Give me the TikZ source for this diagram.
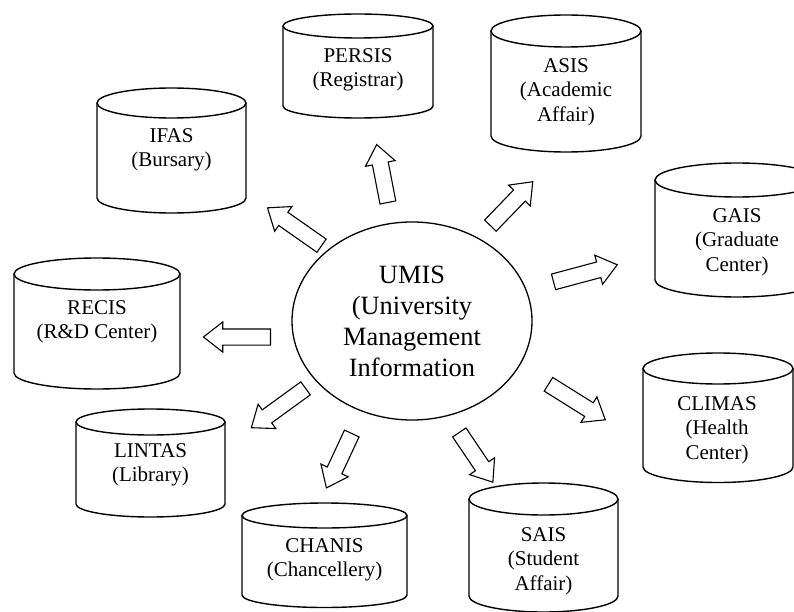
\documentclass[tikz,border=0pt]{standalone}
\usepackage{fontspec}
\setmainfont{Liberation Serif}
\usepackage{tikz}
\usetikzlibrary{shapes.geometric,shapes.arrows,positioning}
% cylinder: centre x, top y, half width, cap radius, end of sides
\newcommand{\dbcyl}[5]{%
  \draw[cyl] (#1,-#2-#4) ellipse [x radius=#3, y radius=#4];
  \draw[cyl] (#1-#3,-#2-#4) -- (#1-#3,-#5)
    arc[start angle=180, end angle=360, x radius=#3, y radius=#4] -- (#1+#3,-#2-#4);}

\begin{document}
\begin{tikzpicture}[x=1pt, y=1pt,
                    cyl/.style={line width=1.4pt, black},
                    dbtext/.style={align=center, inner sep=0pt,
                                   font=\fontsize{21}{24.5}\selectfont},
                    hub/.style={draw, ellipse, line width=1.3pt, align=center,
                                minimum width=240pt, minimum height=198pt, inner sep=0pt,
                                font=\fontsize{26.4}{31}\selectfont},
                    blockarrow/.style={draw, single arrow, line width=1.1pt,
                                       inner xsep=0pt, inner ysep=7.5pt,
                                       minimum width=29pt, single arrow head extend=7pt,
                                       single arrow tip angle=76, anchor=tail},
                   ]

\useasboundingbox (0,0) rectangle (794,-612);
\clip (0,0) rectangle (794,-612);

% the centre
\node[hub] (umis) at (412,-321) {UMIS\\(University\\Management\\Information};

% the data stores
\dbcyl{358}{14}{75}{12}{106}
\dbcyl{566}{15}{75}{16}{136}
\dbcyl{171.5}{88}{74.5}{15}{198}
\dbcyl{737}{163}{82}{17}{280}
\dbcyl{97}{258}{83}{16}{373}
\dbcyl{718}{353}{75}{15.5}{467}
\dbcyl{150.5}{409}{74.5}{13}{504}
\dbcyl{543.5}{483}{74.5}{16}{596}
\dbcyl{324.5}{503}{82.5}{12.5}{595}

\node[dbtext] (persis) at (358,-70)    {PERSIS\\(Registrar)};
\node[dbtext] (asis)   at (566,-92)    {ASIS\\(Academic\\Affair)};
\node[dbtext] (ifas)   at (171.5,-150) {IFAS\\(Bursary)};
\node[dbtext] (gais)   at (737,-242)   {GAIS\\(Graduate\\Center)};
\node[dbtext] (recis)  at (97,-322)    {RECIS\\(R\&D Center)};
\node[dbtext] (climas) at (717,-430)   {CLIMAS\\(Health\\Center)};
\node[dbtext] (lintas) at (150.5,-465) {LINTAS\\(Library)};
\node[dbtext] (sais)   at (543.5,-561) {SAIS\\(Student\\Affair)};
\node[dbtext] (chanis) at (324.5,-560) {CHANIS\\(Chancellery)};

% block arrows out of the centre
\node[blockarrow, rotate=180, minimum height=67pt] (a-recis)  at (271,-337) {};
\node[blockarrow, rotate=145, minimum height=66pt] (a-ifas)   at (322,-246) {};
\node[blockarrow, rotate=101, minimum height=59pt] (a-persis) at (388,-203) {};
\node[blockarrow, rotate=46,  minimum height=61pt] (a-asis)   at (490,-226) {};
\node[blockarrow, rotate=15,  minimum height=66pt] (a-gais)   at (553,-282) {};
\node[blockarrow, rotate=-32, minimum height=67pt] (a-climas) at (548,-384) {};
\node[blockarrow, rotate=-56, minimum height=60pt] (a-sais)   at (459,-432) {};
\node[blockarrow, rotate=-115,minimum height=60pt] (a-chanis) at (352,-433) {};
\node[blockarrow, rotate=-144,minimum height=67pt] (a-lintas) at (306,-388) {};

\end{tikzpicture}
\end{document}
